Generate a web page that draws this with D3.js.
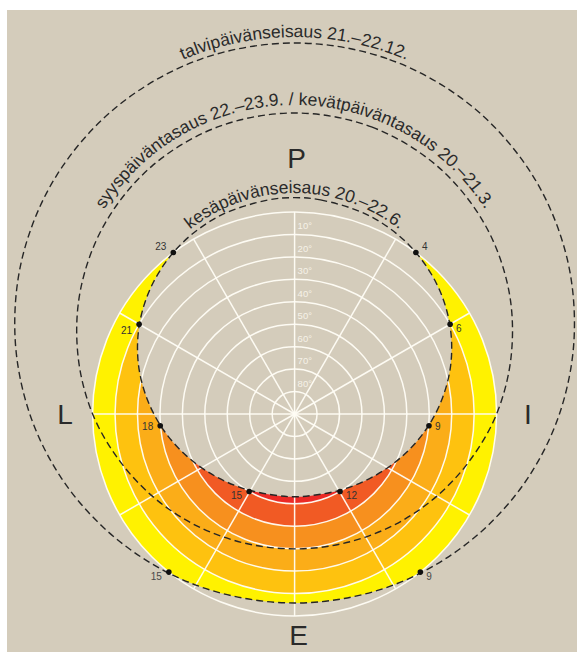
<!DOCTYPE html>
<html><head><meta charset="utf-8">
<script src="https://cdn.jsdelivr.net/npm/d3@7"></script>
<style>html,body{margin:0;padding:0;background:#fff;}svg{display:block;}</style>
</head><body>
<svg id="c" width="578" height="652"></svg>
<script>
// ---------- data ----------
const altitudeCircles = [0,10,20,30,40,50,60,70,80];
const altitudeLabels = ["10°","20°","30°","40°","50°","60°","70°","80°"];
const spokeAzimuths = [0,30,60,90,120,150,180,210,240,270,300,330];
const bandEdges = [0,10,20,30,40,50,60];
const bandColors = ["#fff200","#fec20f","#fbad18","#f7901e","#f15a24","#ec2a26"];
// sun paths: [azimuth from north, clockwise (deg), altitude (deg)]
const summerPath = [[0,-6.4],[6.9,-6.1],[20.6,-4.4],[33.9,-1.0],[46.9,3.9],[59.3,9.8],[71.7,16.6],[84.1,23.9],[97.2,31.3],[111.5,38.5],[127.9,45.0],[146.9,50.0],[168.6,52.9],[180,53.1],[191.4,52.9],[213.1,50.0],[232.1,45.0],[248.5,38.5],[262.8,31.3],[275.9,23.9],[288.3,16.6],[300.7,9.8],[313.1,3.9],[326.1,-1.0],[339.4,-4.4],[353.1,-6.1]];
const equinoxPath = [[0,-44.1],[15,-42.4],[30,-37.4],[45,-29.7],[60,-20.2],[75,-9.9],[90,0],[105,9.3],[120,16.8],[135,22.6],[150,26.7],[165,29.1],[180,29.9],[195,29.1],[210,26.7],[225,22.6],[240,16.8],[255,9.3],[270,0],[285,-9.9],[300,-20.2],[315,-29.7],[330,-37.4],[345,-42.4]];
const winterPath = [[0,-75.3],[15,-73.5],[30,-68.2],[45,-60.1],[60,-50.0],[75,-38.9],[90,-28.0],[105,-18.0],[120,-9.4],[135,-2.7],[150,2.0],[165,4.9],[180,5.8],[195,4.9],[210,2.0],[225,-2.7],[240,-9.4],[255,-18.0],[270,-28.0],[285,-38.9],[300,-50.0],[315,-60.1],[330,-68.2],[345,-73.5]];
// hour markers: [label, azimuth, altitude]
const summerHours = [["4",36.9,0],["6",60.0,10.0],["9",95.0,29.9],["12",149.6,50.0],["15",210.4,50.0],["18",265.0,29.9],["21",300.0,10.0],["23",323.1,0]];
const winterHours = [["9",141.5,0],["15",218.5,0]];
const directionLabels = ["P","I","E","L"];
const pathTitles = ["talvipäivänseisaus 21.–22.12.","syyspäiväntasaus 22.–23.9. / kevätpäiväntasaus 20.–21.3.","kesäpäivänseisaus 20.–22.6."];

// ---------- layout ----------
const W=578,H=652, cx=294.6, cy=414, R=202;
const svg=d3.select("#c");
const rScale=d3.scaleLinear().domain([90,0]).range([0,R]);
const toXY=(A,alt)=>{const rr=rScale(alt),a=A*Math.PI/180;return [cx+rr*Math.sin(a),cy-rr*Math.cos(a)];};
const closed=d3.line().curve(d3.curveCatmullRomClosed.alpha(0.5));
const pathD=p=>closed(p.map(d=>toXY(d[0],d[1])));

svg.append("rect").attr("x",0).attr("y",0).attr("width",W).attr("height",H).attr("fill","#fff");
svg.append("rect").attr("x",7).attr("y",10).attr("width",570).attr("height",642).attr("fill","#d4ccbb");

const defs=svg.append("defs");
const mask=defs.append("mask").attr("id","sunmask").attr("maskUnits","userSpaceOnUse")
  .attr("x",0).attr("y",0).attr("width",W).attr("height",H);
mask.append("path").attr("d",pathD(winterPath)).attr("fill","#fff");
mask.append("path").attr("d",pathD(summerPath)).attr("fill","#000");

// bands
const arc=d3.arc().startAngle(0).endAngle(2*Math.PI);
const gB=svg.append("g").attr("mask","url(#sunmask)").append("g").attr("transform",`translate(${cx},${cy})`);
bandColors.forEach((c,i)=>{
  gB.append("path").attr("d",arc({innerRadius:rScale(bandEdges[i+1]),outerRadius:rScale(bandEdges[i])})).attr("fill",c);
});

// grid
const gG=svg.append("g").attr("transform",`translate(${cx},${cy})`).attr("fill","none").attr("stroke","#fffdf6").attr("stroke-width",1.5).attr("stroke-opacity",0.95);
altitudeCircles.forEach(a=>gG.append("circle").attr("r",rScale(a)));
spokeAzimuths.forEach(A=>{const a=A*Math.PI/180;gG.append("line").attr("x1",0).attr("y1",0).attr("x2",R*Math.sin(a)).attr("y2",-R*Math.cos(a));});
altitudeLabels.forEach((t,i)=>{
  svg.append("text").attr("x",cx+3).attr("y",cy-rScale(altitudeCircles[i+1])-5).text(t)
   .attr("font-family","Liberation Sans, Arial, sans-serif").attr("font-size",9.5).attr("fill","#f6f2e8");
});

// dashed sun paths
[winterPath,equinoxPath,summerPath].forEach(p=>{
  svg.append("path").attr("d",pathD(p)).attr("fill","none").attr("stroke","#262626").attr("stroke-width",1.4).attr("stroke-dasharray","7,4");
});

// hour markers
const labelDy={"summer4":-2,"summer6":8,"summer9":4,"summer12":8,"summer15":8,"summer18":4,"summer21":10,"summer23":-2,"winter9":8,"winter15":8};
function markers(list,key,col){
  list.forEach(([lab,A,alt])=>{
    const [x,y]=toXY(A,alt);
    svg.append("circle").attr("cx",x).attr("cy",y).attr("r",2.8).attr("fill","#111");
    const east=A<180;
    svg.append("text").attr("x",x+(east?6:-7)).attr("y",y+labelDy[key+lab]).attr("text-anchor",east?"start":"end")
      .attr("font-family","Liberation Sans, Arial, sans-serif").attr("font-size",10).attr("fill",col).text(lab);
  });
}
markers(summerHours,"summer","#333");
markers(winterHours,"winter","#4a4a4a");

// direction labels
const dirPos={P:[cx+2,168],I:[528,424],E:[cx+4,645],L:[65,424]};
directionLabels.forEach(d=>{
  svg.append("text").attr("x",dirPos[d][0]).attr("y",dirPos[d][1]).attr("text-anchor","middle")
   .attr("font-family","Liberation Sans, Arial, sans-serif").attr("font-size",28).attr("fill","#2a2a2a").text(d);
});

// curved titles
const arcs=[[cx,323,286],[cx,331,226],[cx,361,168]];
arcs.forEach(([x,y,rr],i)=>{
  defs.append("path").attr("id","tp"+i).attr("d",`M${x-rr},${y} A${rr},${rr} 0 0 1 ${x+rr},${y}`);
  svg.append("text").attr("font-family","Liberation Sans, Arial, sans-serif").attr("font-size",17.5).attr("fill","#2a2a2a")
    .append("textPath").attr("href","#tp"+i).attr("startOffset","50%").attr("text-anchor","middle").text(pathTitles[i]);
});
</script>
</body></html>
